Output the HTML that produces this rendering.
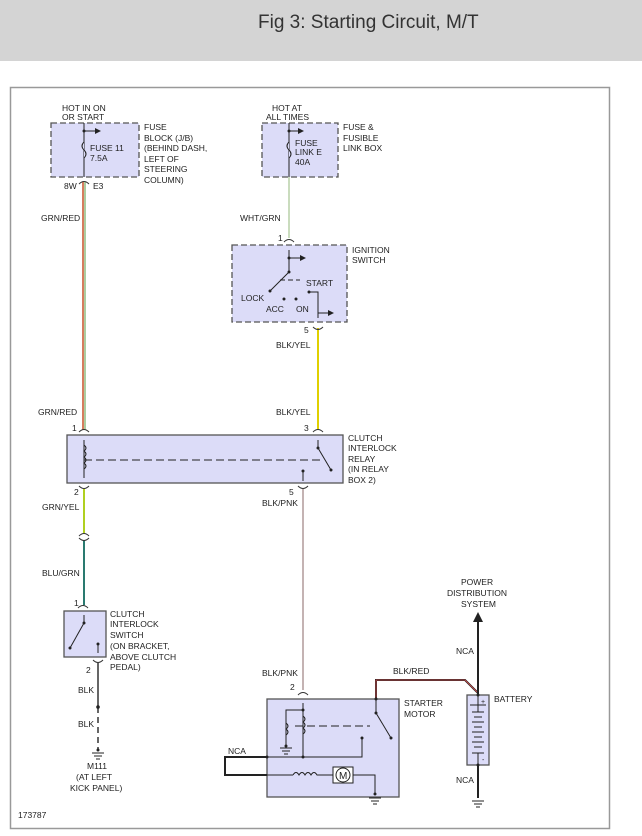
<!DOCTYPE html>
<html><head><style>
body{margin:0;width:642px;height:836px;background:#fff;overflow:hidden;font-family:"Liberation Sans",sans-serif}
.hd{position:absolute;left:0;top:0;width:642px;height:61px;background:#d4d4d4}
.hd span{position:absolute;left:258px;top:12px;font-size:19px;color:#333}
svg{position:absolute;left:0;top:0}
text{font-family:"Liberation Sans",sans-serif;font-size:8.5px;fill:#222}
</style></head><body>
<div class="hd"><span>Fig 3: Starting Circuit, M/T</span></div>
<svg width="642" height="836" viewBox="0 0 642 836">
<defs><marker id="ar" markerWidth="6" markerHeight="6" refX="5" refY="3" orient="auto"><path d="M0,0L6,3L0,6z" fill="#222"/></marker></defs>
<rect x="10.5" y="87.5" width="599" height="741" fill="none" stroke="#999" stroke-width="1.5"/>
<g fill="#dcdcf8" stroke="#555" stroke-width="1.3">
<rect x="51" y="123" width="88" height="54" stroke-dasharray="6,3"/>
<rect x="262" y="123" width="76" height="54" stroke-dasharray="6,3"/>
<rect x="232" y="245" width="115" height="77" stroke-dasharray="6,3"/>
<rect x="67" y="435" width="276" height="48"/>
<rect x="64" y="611" width="42" height="46"/>
<rect x="267" y="699" width="132" height="98"/>
<rect x="467" y="695" width="22" height="70"/>
</g>
<!-- wires -->
<line x1="83" y1="182" x2="83" y2="430" stroke="#c8502a" stroke-width="1.5"/>
<line x1="85" y1="182" x2="85" y2="430" stroke="#5a9a40" stroke-width="1"/>
<line x1="289" y1="177" x2="289" y2="238" stroke="#b8d0a8" stroke-width="1.5"/>
<line x1="318" y1="328" x2="318" y2="430" stroke="#e0d000" stroke-width="2"/>
<line x1="84" y1="489" x2="84" y2="533" stroke="#b0d020" stroke-width="2"/>
<line x1="84" y1="540" x2="84" y2="605" stroke="#2a7a70" stroke-width="2"/>
<line x1="303" y1="489" x2="303" y2="690" stroke="#b09a9a" stroke-width="1.5"/>
<line x1="98" y1="663" x2="98" y2="707" stroke="#666" stroke-width="2"/>
<line x1="98" y1="707" x2="98" y2="750" stroke="#666" stroke-width="2" stroke-dasharray="6,4"/>
<circle cx="98" cy="707" r="1.8" fill="#222"/>
<path d="M376,699V680H465L478,693" fill="none" stroke="#222" stroke-width="2"/>
<path d="M376,699V680H465L478,693" fill="none" stroke="#e05050" stroke-width="0.8"/>
<line x1="478" y1="620" x2="478" y2="695" stroke="#222" stroke-width="2"/>
<path d="M473,622L478,612L483,622z" fill="#222"/>
<line x1="478" y1="765" x2="478" y2="798" stroke="#222" stroke-width="2"/>
<path d="M267,757H225V775H267" fill="none" stroke="#222" stroke-width="2"/>
<!-- connectors -->
<g fill="none" stroke="#333" stroke-width="1">
<path d="M79,184q5,-5 10,0"/><path d="M284,242q5,-5 10,0"/><path d="M313,327q5,5 10,0"/>
<path d="M79,432q5,-5 10,0"/><path d="M313,432q5,-5 10,0"/><path d="M79,486q5,5 10,0"/><path d="M298,486q5,5 10,0"/>
<path d="M79,536q5,-5 10,0"/><path d="M79,538q5,5 10,0"/><path d="M78,608q5,-5 10,0"/><path d="M93,660q5,5 10,0"/><path d="M298,695q5,-5 10,0"/>
</g>
<!-- internal details -->
<g stroke="#222" stroke-width="1" fill="none">
<line x1="84" y1="123" x2="84" y2="177"/><line x1="84" y1="131" x2="100" y2="131" marker-end="url(#ar)"/>
<path d="M84,142q-4,4 0,8q4,4 0,8" fill="#dcdcf8"/>
<line x1="289" y1="123" x2="289" y2="177"/><line x1="289" y1="131" x2="303" y2="131" marker-end="url(#ar)"/>
<path d="M289,142q-4,4 0,8q4,4 0,8" fill="#dcdcf8"/>
<line x1="289" y1="250" x2="289" y2="272"/><line x1="289" y1="258" x2="305" y2="258" marker-end="url(#ar)"/>
<line x1="289" y1="272" x2="270" y2="291"/><line x1="280" y1="280" x2="300" y2="280" stroke-dasharray="5,3"/>
<path d="M309,292H318V318"/><line x1="318" y1="313" x2="333" y2="313" marker-end="url(#ar)"/>
<line x1="84" y1="440" x2="84" y2="478"/><path d="M84,445q4,3 0,6q4,3 0,6q4,3 0,6q4,3 0,6" />
<line x1="84" y1="460" x2="323" y2="460" stroke-dasharray="8,4"/>
<path d="M318,440V448L331,470"/><line x1="303" y1="471" x2="303" y2="481"/>
<line x1="84" y1="615" x2="84" y2="623"/><line x1="84" y1="623" x2="70" y2="648"/><line x1="98" y1="644" x2="98" y2="653"/>
<line x1="303" y1="703" x2="303" y2="757"/><path d="M303,710H286V746"/><path d="M286,723q4,3 0,6q4,3 0,6"/><path d="M303,716q4,3 0,6q4,3 0,6q4,3 0,6"/>
<line x1="295" y1="726" x2="370" y2="726" stroke-dasharray="8,4"/>
<path d="M376,699V713L391,738"/><path d="M267,757H362V738"/>
<path d="M267,775H293"/><path d="M293,775q3,-5 6,0q3,-5 6,0q3,-5 6,0q3,-5 6,0H333"/>
<rect x="333" y="767" width="20" height="16" fill="#fff"/><circle cx="343" cy="775" r="7" fill="#fff"/>
<path d="M353,775H375V794"/>
<line x1="470" y1="705" x2="486" y2="705"/>
</g>
<text x="339" y="779" style="font-size:10px" fill="#222">M</text>
<g fill="#222">
<circle cx="84" cy="131" r="1.5"/><circle cx="289" cy="131" r="1.5"/><circle cx="289" cy="258" r="1.5"/><circle cx="289" cy="272" r="1.5"/>
<circle cx="270" cy="291" r="1.5"/><circle cx="284" cy="299" r="1.5"/><circle cx="296" cy="299" r="1.5"/><circle cx="309" cy="292" r="1.5"/>
<circle cx="318" cy="448" r="1.5"/><circle cx="331" cy="470" r="1.5"/><circle cx="303" cy="471" r="1.5"/>
<circle cx="84" cy="623" r="1.5"/><circle cx="70" cy="648" r="1.5"/><circle cx="98" cy="644" r="1.5"/>
<circle cx="376" cy="699" r="1.5"/><circle cx="376" cy="713" r="1.5"/><circle cx="391" cy="738" r="1.5"/><circle cx="303" cy="710" r="1.5"/><circle cx="303" cy="757" r="1.5"/><circle cx="362" cy="738" r="1.5"/><circle cx="267" cy="757" r="1.5"/><circle cx="375" cy="794" r="1.5"/><circle cx="478" cy="695" r="1.5"/><circle cx="478" cy="765" r="1.5"/><circle cx="98" cy="750" r="1.5"/><circle cx="286" cy="746" r="1.5"/>
</g>
<!-- battery cells -->
<g stroke="#222" stroke-width="1">
<line x1="472" y1="712" x2="484" y2="712"/><line x1="474" y1="717" x2="482" y2="717"/><line x1="472" y1="722" x2="484" y2="722"/><line x1="474" y1="727" x2="482" y2="727"/><line x1="472" y1="732" x2="484" y2="732"/><line x1="474" y1="737" x2="482" y2="737"/><line x1="472" y1="742" x2="484" y2="742"/><line x1="474" y1="747" x2="482" y2="747"/><line x1="472" y1="753" x2="484" y2="753"/><line x1="478" y1="753" x2="478" y2="765"/><line x1="478" y1="695" x2="478" y2="712"/>
</g>
<!-- grounds -->
<g stroke="#222" stroke-width="1">
<path d="M92,753h12M94,756h8M96,759h4"/><path d="M472,801h12M474,804h8M476,807h4"/><path d="M369,798h12M371,801h8M373,804h4"/><path d="M280,748h12M282,751h8M284,754h4"/>
</g>
<!-- labels -->
<text x="62" y="111">HOT IN ON</text><text x="62" y="120">OR START</text>
<text x="144" y="130">FUSE</text><text x="144" y="141">BLOCK (J/B)</text><text x="144" y="151">(BEHIND DASH,</text><text x="144" y="162">LEFT OF</text><text x="144" y="172">STEERING</text><text x="144" y="183">COLUMN)</text>
<text x="90" y="151">FUSE 11</text><text x="90" y="161">7.5A</text>
<text x="64" y="189">8W</text><text x="93" y="189">E3</text>
<text x="272" y="111">HOT AT</text><text x="266" y="120">ALL TIMES</text>
<text x="343" y="130">FUSE &amp;</text><text x="343" y="141">FUSIBLE</text><text x="343" y="151">LINK BOX</text>
<text x="295" y="146">FUSE</text><text x="295" y="155">LINK E</text><text x="295" y="165">40A</text>
<text x="41" y="221">GRN/RED</text><text x="240" y="221">WHT/GRN</text>
<text x="278" y="241">1</text>
<text x="352" y="253">IGNITION</text><text x="352" y="263">SWITCH</text>
<text x="306" y="286">START</text><text x="241" y="301">LOCK</text><text x="266" y="312">ACC</text><text x="296" y="312">ON</text>
<text x="304" y="333">5</text><text x="276" y="348">BLK/YEL</text>
<text x="38" y="415">GRN/RED</text><text x="276" y="415">BLK/YEL</text>
<text x="72" y="431">1</text><text x="304" y="431">3</text>
<text x="348" y="441">CLUTCH</text><text x="348" y="451">INTERLOCK</text><text x="348" y="462">RELAY</text><text x="348" y="472">(IN RELAY</text><text x="348" y="483">BOX 2)</text>
<text x="74" y="495">2</text><text x="289" y="495">5</text>
<text x="42" y="510">GRN/YEL</text><text x="262" y="506">BLK/PNK</text>
<text x="42" y="576">BLU/GRN</text>
<text x="74" y="606">1</text>
<text x="110" y="617">CLUTCH</text><text x="110" y="627">INTERLOCK</text><text x="110" y="638">SWITCH</text><text x="110" y="649">(ON BRACKET,</text><text x="110" y="660">ABOVE CLUTCH</text><text x="110" y="670">PEDAL)</text>
<text x="86" y="673">2</text>
<text x="78" y="693">BLK</text><text x="78" y="727">BLK</text>
<text x="87" y="769">M111</text><text x="76" y="780">(AT LEFT</text><text x="70" y="791">KICK PANEL)</text>
<text x="18" y="818">173787</text>
<text x="262" y="676">BLK/PNK</text><text x="290" y="690">2</text>
<text x="393" y="674">BLK/RED</text>
<text x="404" y="706">STARTER</text><text x="404" y="717">MOTOR</text>
<text x="228" y="754">NCA</text>
<text x="461" y="585">POWER</text><text x="447" y="596">DISTRIBUTION</text><text x="461" y="607">SYSTEM</text>
<text x="456" y="654">NCA</text><text x="456" y="783">NCA</text>
<text x="494" y="702">BATTERY</text>
<text x="481" y="704" style="font-size:7px">+</text><text x="482" y="762" style="font-size:7px">-</text>
</svg>
</body></html>
